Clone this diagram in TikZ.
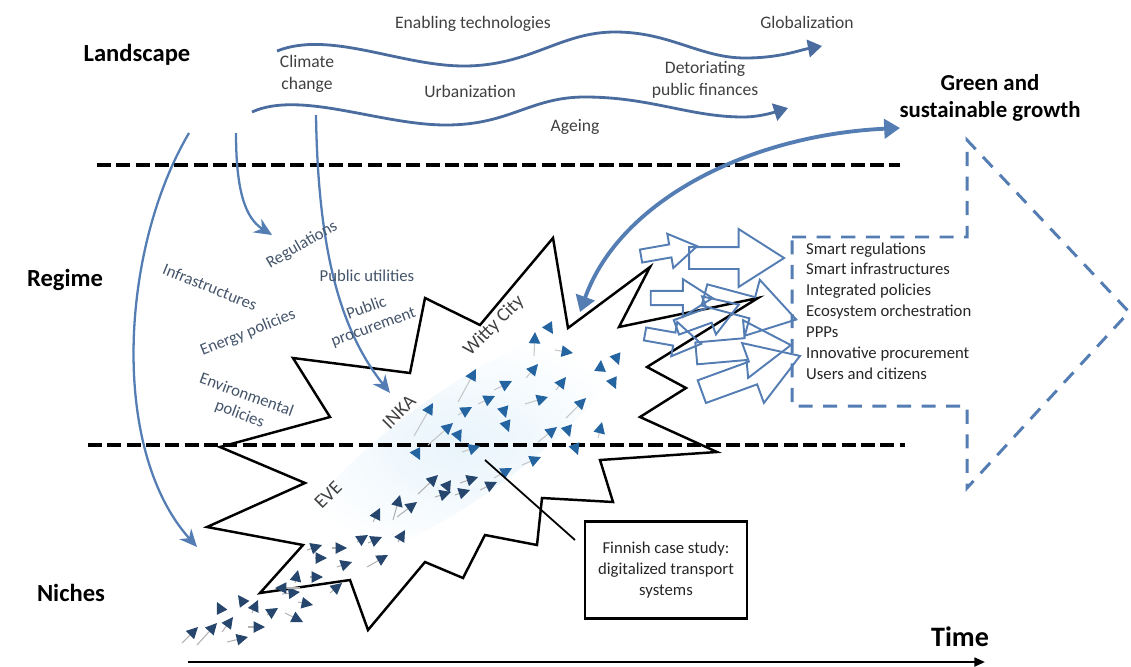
\documentclass[tikz,border=0pt]{standalone}
\usepackage{fontspec}
\setmainfont{Carlito}
\usetikzlibrary{arrows.meta,shapes.arrows}
\definecolor{waveblue}{RGB}{74,108,158}
\definecolor{arrowblue}{RGB}{84,125,180}
\definecolor{navyhead}{RGB}{38,70,110}
\definecolor{lighthead}{RGB}{36,100,160}
\definecolor{slatetext}{RGB}{68,84,106}
\definecolor{darktext}{RGB}{64,64,64}
\definecolor{haze}{RGB}{232,244,251}
\newcommand{\starline}{(220,447) -- (330,417) -- (293,358) -- (410,373)
  -- (425,298) -- (480,325) -- (553,238) -- (568,328) -- (650,267) -- (619,327)
  -- (758,298) -- (647,367) -- (686,388) -- (640,417) -- (717,452) -- (600,460)
  -- (613,502) -- (542,498) -- (537,545) -- (485,535) -- (463,578) -- (425,562)
  -- (368,630) -- (350,580) -- (260,593) -- (303,545) -- (207,527) -- (305,483) -- cycle}
\tikzset{
  layer/.style={font=\fontsize{14}{16}\selectfont\bfseries},
  trend/.style={font=\fontsize{10}{12.5}\selectfont, text=darktext, align=center},
  regime/.style={font=\fontsize{9.5}{11.5}\selectfont, text=slatetext, align=center},
  project/.style={font=\fontsize{11}{13}\selectfont, text=darktext},
  wave/.style={draw=waveblue, line width=1.6pt, -{Triangle[length=8pt,width=10pt]}},
  drop/.style={draw=arrowblue, line width=1.3pt, -{Stealth[length=10pt,width=9pt]}},
  border/.style={line width=2pt, dash pattern=on 8pt off 3pt},
  seed/.style={draw=gray!60, line width=0.6pt, -{Triangle[length=6.5pt,width=6.5pt,color=navyhead]}},
  seedlight/.style={draw=gray!45, line width=0.6pt, -{Triangle[length=6.5pt,width=6.5pt,color=lighthead]}},
  hollow/.style={single arrow, draw=arrowblue, line width=1.1pt, inner sep=0.2cm,
    single arrow head extend=0.36cm, single arrow tip angle=65, minimum height=1.9cm}
}
\begin{document}
\begin{tikzpicture}[x=0.02cm, y=-0.02cm]
\useasboundingbox (0,0) rectangle (1131,666);
\begin{scope}
  \clip \starline;
  \shade[inner color=haze, outer color=white, rotate around={35:(460,445)}]
    (460,445) ellipse [x radius=4cm, y radius=1.1cm];
\end{scope}

\draw[border] (97,165) -- (900,165);
\draw[border] (88,445) -- (905,445);

\draw[line width=1.4pt, line join=miter] \starline;

\node[layer] (landscape) at (137,55) {Landscape};
\node[layer] (regime) at (65,280) {Regime};
\node[layer] (niches) at (71,593) {Niches};
\node[font=\fontsize{13}{15}\selectfont\bfseries, align=center] (green) at (990,98) {Green and\\sustainable growth};
\node[font=\fontsize{16}{18}\selectfont\bfseries] (time) at (960,637) {Time};

\node[trend] (enabling) at (473,24) {Enabling technologies};
\node[trend] (global) at (807,22) {Globalization};
\node[trend] (climate) at (307,74) {Climate\\change};
\node[trend] (urban) at (470,91) {Urbanization};
\node[trend] (finances) at (705,80) {Detoriating\\public finances};
\node[trend] (ageing) at (575,127) {Ageing};

\coordinate (w1s) at (277,51);
\coordinate (w1e) at (822,46);
\coordinate (w2s) at (252,112);
\coordinate (w2e) at (788,108);
\draw[wave] (w1s) .. controls (330,30) and (400,66) .. (464,66)
  .. controls (530,66) and (560,32) .. (615,32) .. controls (670,32) and (700,58) .. (745,58)
  .. controls (780,58) and (800,50) .. (w1e);
\draw[wave] (w2s) .. controls (300,90) and (380,125) .. (446,125)
  .. controls (510,125) and (530,97) .. (585,97) .. controls (650,97) and (690,117) .. (743,117)
  .. controls (760,117) and (775,112) .. (w2e);

\coordinate (d1s) at (189,133);
\coordinate (d1e) at (197,547);
\coordinate (d2s) at (236,133);
\coordinate (d2e) at (272,235);
\coordinate (d3s) at (316,115);
\coordinate (d3e) at (390,393);
\draw[drop] (d1s) .. controls (120,250) and (110,450) .. (d1e);
\draw[drop] (d2s) .. controls (236,190) and (245,218) .. (d2e);
\draw[drop] (d3s) .. controls (318,250) and (340,330) .. (d3e);

\node[regime, rotate=30] (regulations) at (302,245) {Regulations};
\node[regime, rotate=-22] (infra) at (210,287) {Infrastructures};
\node[regime] (utilities) at (367,276) {Public utilities};
\node[regime, rotate=22] (energy) at (248,333) {Energy policies};
\node[regime, rotate=20] (procure) at (370,318) {Public\\procurement};
\node[regime, rotate=-20] (environ) at (243,405) {Environmental\\policies};

\node[project, rotate=45] (witty) at (494,326) {Witty City};
\node[project, rotate=45] (inka) at (399,412) {INKA};
\node[project, rotate=45] (eve) at (328,495) {EVE};

\foreach \xa/\ya/\xb/\yb in {534/356/535/332, 548/326/553/334, 555/350/573/353, 526/378/538/364,
  556/390/566/377, 494/390/512/381, 458/402/476/369, 478/404/495/396, 458/415/472/407,
  414/436/433/403, 428/445/453/423, 503/408/506/418, 506/424/509/432, 457/433/461/442,
  525/404/548/397, 600/372/601/360, 616/357/619/365, 612/380/616/389, 566/418/586/398,
  598/438/602/422, 538/442/557/427, 567/428/570/437, 575/447/578/455, 522/465/541/457,
  494/478/512/468, 416/452/420/460, 462/452/480/446}
  \draw[seedlight] (\xa,\ya) -- (\xb,\yb);
\foreach \xa/\ya/\xb/\yb in {418/494/438/475, 460/483/478/477, 480/490/497/482, 455/495/470/490,
  435/497/451/492, 447/486/450/493, 397/517/417/502, 393/520/400/495, 373/522/380/508,
  398/542/405/530, 368/543/382/537, 357/542/368/535, 367/567/388/555, 337/567/352/562,
  332/548/347/548, 307/550/322/545, 315/558/327/558, 310/577/323/577, 295/583/298/570,
  330/593/342/583, 282/594/300/592, 300/588/275/588, 252/613/258/600, 243/602/238/595,
  222/612/217/602, 298/602/313/605, 267/615/278/608, 285/613/303/622, 248/627/265/627,
  227/642/248/637, 222/632/233/617, 197/645/217/623, 182/643/198/627}
  \draw[seed] (\xa,\ya) -- (\xb,\yb);

\node[hollow] (ha1) at (728,258) {};
\node[hollow, scale=0.6, rotate=10] (ha2) at (664,252) {};
\node[hollow, rotate=-15] (ha3) at (742,305) {};
\node[hollow, scale=0.7, rotate=20] (ha4) at (702,318) {};
\node[hollow, rotate=5] (ha5) at (735,350) {};
\node[hollow, scale=1.1, rotate=20] (ha6) at (742,377) {};
\node[hollow, scale=0.6, rotate=-10] (ha7) at (668,338) {};
\node[hollow, scale=0.65] (ha8) at (676,298) {};

\coordinate (gs) at (580,312);
\coordinate (ge) at (900,128);
\draw[draw=arrowblue, line width=2.2pt, {Triangle[length=9pt,width=11pt]}-{Triangle[length=9pt,width=11pt]}]
  (gs) .. controls (620,200) and (750,135) .. (ge);

\draw[draw=arrowblue, line width=1.7pt, dash pattern=on 8pt off 6pt, line join=miter]
  (792,237) -- (967,237) -- (967,140) -- (1129,312) -- (967,488) -- (967,406) -- (792,406) -- cycle;
\node[font=\fontsize{9.5}{11.9}\selectfont, text=black!85, align=left, anchor=west] (goals) at (800,311)
  {Smart regulations\\Smart infrastructures\\Integrated policies\\Ecosystem orchestration\\PPPs\\Innovative procurement\\Users and citizens};

\node[draw, line width=1.2pt, minimum width=3.24cm, minimum height=1.94cm, align=center,
  font=\fontsize{9.5}{12}\selectfont, text=black!85] (case) at (666,570)
  {Finnish case study:\\digitalized transport\\systems};
\coordinate (callout) at (485,460);
\draw[line width=1pt] (callout) -- (575,540);

\coordinate (t0) at (188,662);
\coordinate (t1) at (985,662);
\draw[line width=1.3pt, -{Triangle[length=6pt,width=5pt]}] (t0) -- (t1);
\end{tikzpicture}
\end{document}
